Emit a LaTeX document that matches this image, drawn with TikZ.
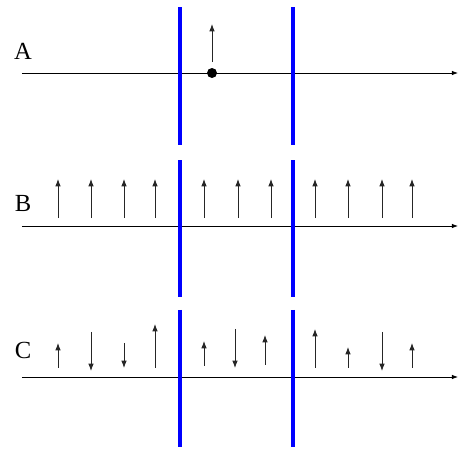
\documentclass[tikz,border=0pt]{standalone}
\usepackage{fontspec}
\setmainfont{Liberation Serif}
\usetikzlibrary{arrows.meta}

\begin{document}
\begin{tikzpicture}[
  x=0.02cm, y=-0.02cm,
  axis/.style={-{Latex[length=3.5pt,width=2.6pt]}, line width=0.45pt, black},
  wall/.style={line width=2.1pt, blue},
  vec/.style={-{Latex[length=4.2pt,width=3.2pt]}, line width=0.55pt, black!85},
  tag/.style={font=\fontsize{14}{16}\selectfont, inner sep=0pt}
]
\useasboundingbox (0,0) rectangle (458,450);

% panel A: single particle
\node[tag] (labA) at (23,51) {A};
\coordinate (a0) at (22,73);
\coordinate (a1) at (458,73);
\draw[axis] (a0) -- (a1);
\coordinate (wa1s) at (180,7);   \coordinate (wa1e) at (180,145);
\coordinate (wa2s) at (293,7);   \coordinate (wa2e) at (293,145);
\draw[wall] (wa1s) -- (wa1e);
\draw[wall] (wa2s) -- (wa2e);
\node[circle, fill=black, minimum size=0.2cm, inner sep=0pt] (dot) at (212,73) {};
\coordinate (va) at (212,24);
\draw[vec] ([yshift=0.22cm]dot.center) -- (va);

% panel B: all spins up
\node[tag] (labB) at (23,203) {B};
\coordinate (b0) at (22,226);
\coordinate (b1) at (458,226);
\draw[axis] (b0) -- (b1);
\coordinate (wb1s) at (180,160); \coordinate (wb1e) at (180,297);
\coordinate (wb2s) at (293,160); \coordinate (wb2e) at (293,297);
\draw[wall] (wb1s) -- (wb1e);
\draw[wall] (wb2s) -- (wb2e);
\foreach \x [count=\i] in {58,91,124,155,204,238,271,315,348,382,412} {
  \coordinate (b\i s) at (\x,218);
  \coordinate (b\i e) at (\x,179);
  \draw[vec] (b\i s) -- (b\i e);
}

% panel C: random spins
\node[tag] (labC) at (23,350) {C};
\coordinate (c0) at (22,377);
\coordinate (c1) at (458,377);
\draw[axis] (c0) -- (c1);
\coordinate (wc1s) at (180,310); \coordinate (wc1e) at (180,447);
\coordinate (wc2s) at (293,310); \coordinate (wc2e) at (293,447);
\draw[wall] (wc1s) -- (wc1e);
\draw[wall] (wc2s) -- (wc2e);
\foreach \x/\ys/\ye [count=\i] in {58/368/343, 91/332/371, 124/343/368, 155/368/324,
    204/366/341, 235/329/368, 265/365/335,
    315/368/329, 348/368/347, 382/332/371, 412/368/343} {
  \coordinate (c\i s) at (\x,\ys);
  \coordinate (c\i e) at (\x,\ye);
  \draw[vec] (c\i s) -- (c\i e);
}
\end{tikzpicture}
\end{document}
